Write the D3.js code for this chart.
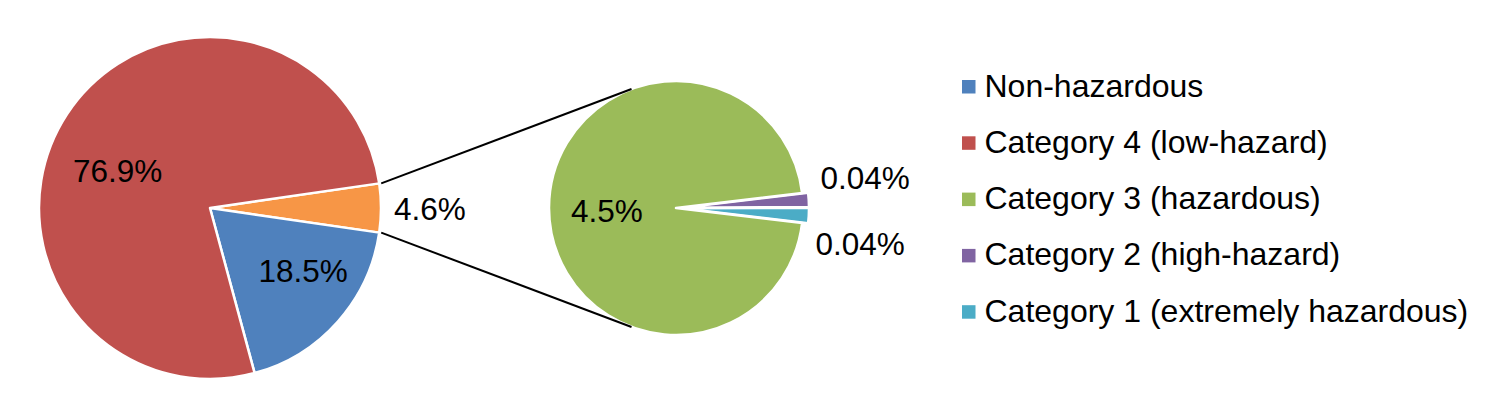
<!DOCTYPE html>
<html>
<head>
<meta charset="utf-8">
<script src="https://cdn.jsdelivr.net/npm/d3@7"></script>
<style>
  html, body { margin: 0; padding: 0; background: #fff; }
  svg { display: block; }
  text { font-family: "Liberation Sans", Arial, sans-serif; fill: #000; }
</style>
</head>
<body>
<svg id="chart" width="1503" height="405"></svg>
<script>
// ---- data ----
const mainCategories = ["Other", "Non-hazardous", "Category 4 (low-hazard)"];
const mainValues = [4.6, 18.5, 76.9];
const mainLabels = ["4.6%", "18.5%", "76.9%"];

const subCategories = ["Category 2 (high-hazard)", "Category 1 (extremely hazardous)", "Category 3 (hazardous)"];
const subValues = [0.085, 0.09, 4.5];          // slice sizes as drawn
const subLabels = ["0.04%", "0.04%", "4.5%"];

const legendNames = ["Non-hazardous", "Category 4 (low-hazard)", "Category 3 (hazardous)", "Category 2 (high-hazard)", "Category 1 (extremely hazardous)"];
const colorRange = ["#4F81BD", "#C0504D", "#9BBB59", "#8064A2", "#4BACC6"];
const otherColor = "#F79646";

// ---- layout ----
const svg = d3.select("#chart");
const c1 = {x: 210, y: 208, r: 171};
const c2 = {x: 676, y: 208, r: 127};
const explode = 6;
const labelFont = 31.5;
const legendFont = 32;

const color = d3.scaleOrdinal().domain(legendNames).range(colorRange).unknown(otherColor);

// main pie: "Other" slice centered pointing right
const mainTotal = d3.sum(mainValues);
const otherAngle = 2 * Math.PI * mainValues[0] / mainTotal;
const pie1 = d3.pie().sort(null).value(d => d.v)
  .startAngle(Math.PI / 2 - otherAngle / 2)
  .endAngle(Math.PI / 2 - otherAngle / 2 + 2 * Math.PI);
const mainData = mainCategories.map((c, i) => ({c, v: mainValues[i], label: mainLabels[i]}));
const arcs1 = pie1(mainData);
const arc1 = d3.arc().innerRadius(0).outerRadius(c1.r);

const g1 = svg.append("g").attr("transform", `translate(${c1.x},${c1.y})`);
g1.selectAll("path").data(arcs1).join("path")
  .attr("d", arc1)
  .attr("fill", d => color(d.data.c))
  .attr("stroke", "#fff").attr("stroke-width", 2.5).attr("stroke-linejoin", "round");

// secondary pie: small slices centered pointing right
const subTotal = d3.sum(subValues);
const smallAngle = 2 * Math.PI * (subValues[0] + subValues[1]) / subTotal;
const pie2 = d3.pie().sort(null).value(d => d.v)
  .startAngle(Math.PI / 2 - smallAngle / 2)
  .endAngle(Math.PI / 2 - smallAngle / 2 + 2 * Math.PI);
const subData = subCategories.map((c, i) => ({c, v: subValues[i], label: subLabels[i], small: i < 2}));
const arcs2 = pie2(subData);
const arc2 = d3.arc().innerRadius(0).outerRadius(c2.r);

const g2 = svg.append("g").attr("transform", `translate(${c2.x},${c2.y})`);
g2.selectAll("path").data(arcs2).join("path")
  .attr("d", arc2)
  .attr("transform", d => {
    if (!d.data.small) return null;
    const m = (d.startAngle + d.endAngle) / 2;
    return `translate(${explode * Math.sin(m)},${-explode * Math.cos(m)})`;
  })
  .attr("fill", d => color(d.data.c))
  .attr("stroke", "#fff").attr("stroke-width", 2.5).attr("stroke-linejoin", "round");

// connector lines: tangents from "Other" slice edges to secondary pie
const oth = arcs1[0];
function edgePoint(a) { return [c1.x + c1.r * Math.sin(a), c1.y - c1.r * Math.cos(a)]; }
function tangent(P, sign) {
  const dx = c2.x - P[0], dy = c2.y - P[1];
  const d = Math.hypot(dx, dy);
  const th = Math.atan2(dy, dx);
  const al = Math.asin(c2.r / d);
  const L = Math.sqrt(d * d - c2.r * c2.r);
  const a = th + sign * al;
  return [P[0] + L * Math.cos(a), P[1] + L * Math.sin(a)];
}
const pTop = edgePoint(oth.startAngle), pBot = edgePoint(oth.endAngle);
const lines = [[pTop, tangent(pTop, -1)], [pBot, tangent(pBot, 1)]];
svg.selectAll("line.conn").data(lines).join("line")
  .attr("class", "conn")
  .attr("x1", d => d[0][0] + 2).attr("y1", d => d[0][1])
  .attr("x2", d => d[1][0]).attr("y2", d => d[1][1])
  .attr("stroke", "#000").attr("stroke-width", 2);

// data labels (text start x, baseline y)
const labelPos1 = {"4.6%": [394, 220], "18.5%": [258.5, 282], "76.9%": [73, 182]};
svg.append("g").selectAll("text").data(arcs1).join("text")
  .attr("x", d => labelPos1[d.data.label][0])
  .attr("y", d => labelPos1[d.data.label][1])
  .attr("font-size", labelFont)
  .text(d => d.data.label);

const labelPos2 = [[820.5, 189], [815.5, 255], [571, 222]];
svg.append("g").selectAll("text").data(arcs2).join("text")
  .attr("x", (d, i) => labelPos2[i][0])
  .attr("y", (d, i) => labelPos2[i][1])
  .attr("font-size", labelFont)
  .text(d => d.data.label);

// legend
const legend = svg.append("g").attr("transform", "translate(962,96.5)");
const items = legend.selectAll("g").data(legendNames).join("g")
  .attr("transform", (d, i) => `translate(0,${i * 56.3})`);
items.append("rect").attr("x", 0).attr("y", -16.5).attr("width", 13.5).attr("height", 13.5)
  .attr("fill", d => color(d));
items.append("text").attr("x", 22.5).attr("y", 0).attr("font-size", legendFont).text(d => d);
</script>
</body>
</html>
